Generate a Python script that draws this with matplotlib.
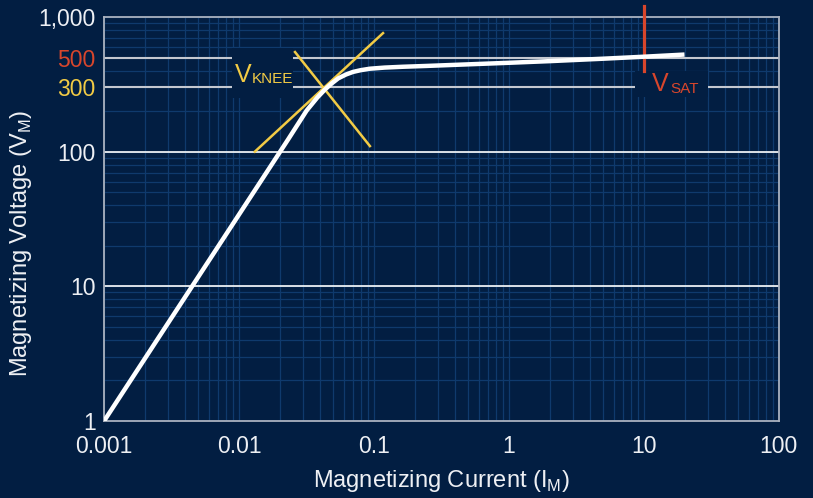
import numpy as np
import matplotlib
matplotlib.use('Agg')
import matplotlib.pyplot as plt
from matplotlib.ticker import LogLocator, NullFormatter
from matplotlib.patches import Rectangle

plt.rcParams['font.family'] = ['Liberation Sans', 'DejaVu Sans']
plt.rcParams['mathtext.fontset'] = 'custom'
plt.rcParams['mathtext.rm'] = 'Liberation Sans'

# excitation curve
current = [0.001, 0.0232, 0.0317, 0.038, 0.0434, 0.049, 0.0543, 0.062, 0.070,
           0.080, 0.0933, 0.12, 0.164, 0.245, 0.5, 1.0, 2.0, 5.0, 10.0, 20.0]
voltage = [1, 124, 202, 252, 290, 323, 350, 374, 391,
           403, 413, 421, 427, 433, 445, 457, 470, 490, 507, 526]

# knee tangent lines and saturation marker
knee_line1_i = [0.0131, 0.1167]
knee_line1_v = [100, 759]
knee_line2_i = [0.026, 0.0933]
knee_line2_v = [549, 110]
sat_i = 10
sat_v = [396, 1200]

xticks = [0.001, 0.01, 0.1, 1, 10, 100]
xlabels = ['0.001', '0.01', '0.1', '1', '10', '100']
yticks = [1, 10, 100, 300, 500, 1000]
ylabels = ['1', '10', '100', '300', '500', '1,000']

bg = '#021e42'
yellow = '#f2cb45'
red = '#d8462c'
txt = '#eef0f4'
ylabel_colors = [txt, txt, txt, yellow, red, txt]

fig = plt.figure(figsize=(8.13, 4.98), dpi=100, facecolor=bg)
ax = fig.add_axes([0.128, 0.1546, 0.83, 0.8113], facecolor=bg)
ax.set_xscale('log')
ax.set_yscale('log')
ax.set_xlim(0.001, 100)
ax.set_ylim(1, 1000)

# blue grid
ax.set_axisbelow(True)
ax.xaxis.set_minor_locator(LogLocator(base=10, subs=np.arange(2, 10)))
ax.yaxis.set_minor_locator(LogLocator(base=10, subs=np.arange(2, 10)))
ax.xaxis.set_minor_formatter(NullFormatter())
ax.yaxis.set_minor_formatter(NullFormatter())
ax.grid(True, which='both', color='#0f3a6d', lw=0.9)

ax.set_xticks(xticks)
ax.set_xticklabels(xlabels)
ax.set_yticks(yticks)
ax.set_yticklabels(ylabels)
ax.tick_params(which='both', length=0, labelsize=16.5, colors=txt)
ax.tick_params(axis='x', pad=10)
ax.tick_params(axis='y', pad=6)
for lab, c in zip(ax.get_yticklabels(), ylabel_colors):
    lab.set_color(c)

for v in [10, 100]:
    ax.axhline(v, color='white', lw=1.2, zorder=1)
for v in [300, 500]:
    ax.axhline(v, color='#c4c8d0', lw=1.5, zorder=1)

for s in ax.spines.values():
    s.set_color('#aab2c0')
    s.set_linewidth(1.3)

# label backgrounds hiding the grid
ax.add_patch(Rectangle((0.00888, 250), 0.0251 - 0.00888, 588 - 250,
                       fc=bg, ec='none', zorder=2))
ax.add_patch(Rectangle((8.57, 254), 29.8 - 8.57, 397 - 254,
                       fc=bg, ec='none', zorder=2))

ax.plot(knee_line1_i, knee_line1_v, color=yellow, lw=1.8, zorder=3)
ax.plot(knee_line2_i, knee_line2_v, color=yellow, lw=1.8, zorder=3)
ax.plot([sat_i, sat_i], sat_v, color=red, lw=2.3, zorder=3, clip_on=False)
ax.plot(current, voltage, color='white', lw=3.2, zorder=4, solid_capstyle='butt')

ax.text(0.00933, 329, 'V', color=yellow, fontsize=18, va='baseline', ha='left', zorder=5)
ax.text(0.0125, 322, 'KNEE', color=yellow, fontsize=11, va='baseline', ha='left', zorder=5)
ax.text(11.5, 283, 'V', color=red, fontsize=18, va='baseline', ha='left', zorder=5)
ax.text(15.6, 274, 'SAT', color=red, fontsize=11, va='baseline', ha='left', zorder=5)

ax.set_xlabel(r'Magnetizing Current (I$_\mathregular{M}$)', fontsize=17, color=txt)
ax.set_ylabel(r'Magnetizing Voltage (V$_\mathregular{M}$)', fontsize=17, color=txt)
ax.xaxis.set_label_coords(0.5, -0.116)
ax.yaxis.set_label_coords(-0.104, 0.44)

fig.savefig('out.png', dpi=100, facecolor=bg)
